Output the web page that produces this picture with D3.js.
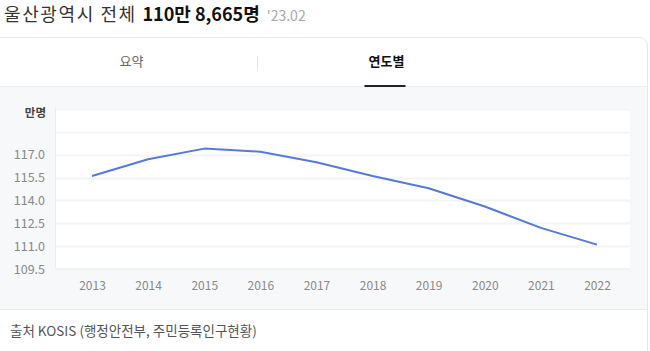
<!DOCTYPE html>
<html>
<head>
<meta charset="utf-8">
<script src="https://cdn.jsdelivr.net/npm/d3@7.9.0/dist/d3.min.js"></script>
<style>
  html, body { margin: 0; padding: 0; background: #fff; }
  body { width: 650px; height: 351px; overflow: hidden; font-family: "Noto Sans CJK KR", "Noto Sans", sans-serif; }
  svg { display: block; }
</style>
</head>
<body>
<svg id="chart" width="650" height="351"></svg>
<script>
const years = ["2013", "2014", "2015", "2016", "2017", "2018", "2019", "2020", "2021", "2022"];
const population = [115.6, 116.7, 117.4, 117.2, 116.5, 115.6, 114.8, 113.6, 112.2, 111.1];
const yTicks = [109.5, 111.0, 112.5, 114.0, 115.5, 117.0, 118.5, 120.0];
const yLabeled = [109.5, 111.0, 112.5, 114.0, 115.5, 117.0];
const tabs = ["요약", "연도별"];

const svg = d3.select("#chart");
const font = '"Noto Sans CJK KR", "Noto Sans", sans-serif';

// header
const head = svg.append("text").attr("x", 4).attr("y", 21).attr("font-family", font);
head.append("tspan").attr("font-size", 18).attr("letter-spacing", 1.6).attr("fill", "#333").text("울산광역시 전체 ");
head.append("tspan").attr("font-size", 18).attr("font-weight", "bold").attr("fill", "#111").text("110만 8,665명");
head.append("tspan").attr("dx", 7).attr("font-size", 14).attr("fill", "#aaa").text("'23.02");

// card
svg.append("rect")
  .attr("x", -10).attr("y", 37.5).attr("width", 657.5).attr("height", 330)
  .attr("rx", 8).attr("fill", "#fff").attr("stroke", "#e8e8e8");

// chart panel
svg.append("rect").attr("x", 0).attr("y", 87).attr("width", 647).attr("height", 222).attr("fill", "#f7f8fa");
svg.append("line").attr("x1", 0).attr("x2", 647).attr("y1", 86.5).attr("y2", 86.5).attr("stroke", "#ececec");
svg.append("line").attr("x1", 0).attr("x2", 647).attr("y1", 309.5).attr("y2", 309.5).attr("stroke", "#ececec");

// tabs
const tabX = d3.scaleBand().domain(tabs).range([4, 514]);
svg.selectAll(".tab").data(tabs).join("text")
  .attr("x", d => tabX(d) + tabX.bandwidth() / 2)
  .attr("y", 66)
  .attr("text-anchor", "middle")
  .attr("font-family", font)
  .attr("font-size", 13)
  .attr("font-weight", (d, i) => i === 1 ? "bold" : "normal")
  .attr("fill", (d, i) => i === 1 ? "#111" : "#666")
  .text(d => d);
svg.append("line").attr("x1", 257.5).attr("x2", 257.5).attr("y1", 56).attr("y2", 70).attr("stroke", "#e6e6e6");
svg.append("line")
  .attr("x1", tabX("연도별") + tabX.bandwidth() / 2 - 22)
  .attr("x2", tabX("연도별") + tabX.bandwidth() / 2 + 19)
  .attr("y1", 86).attr("y2", 86).attr("stroke", "#222").attr("stroke-width", 2);

// plot
const plot = { left: 55, right: 630, top: 108, bottom: 269 };
const x = d3.scalePoint().domain(years).range([92, 597]);
const y = d3.scaleLinear().domain([109.5, 120]).range([plot.bottom, plot.top + 1]);

svg.append("rect")
  .attr("x", plot.left).attr("y", plot.top)
  .attr("width", plot.right - plot.left).attr("height", plot.bottom - plot.top)
  .attr("fill", "#fff");

svg.append("g").selectAll("line").data(yTicks).join("line")
  .attr("x1", plot.left).attr("x2", plot.right)
  .attr("y1", d => Math.round(y(d)) + 0.5).attr("y2", d => Math.round(y(d)) + 0.5)
  .attr("stroke", "#f3f4f6").attr("stroke-width", 2);

svg.append("line").attr("x1", plot.left + 0.5).attr("x2", plot.left + 0.5)
  .attr("y1", plot.top).attr("y2", plot.bottom).attr("stroke", "#e9edf2");
svg.append("line").attr("x1", plot.left).attr("x2", plot.right)
  .attr("y1", plot.bottom - 0.5).attr("y2", plot.bottom - 0.5).attr("stroke", "#eef0f3");

const yAxis = svg.append("g").attr("transform", `translate(${plot.left - 7},0)`)
  .call(d3.axisLeft(y).tickValues(yLabeled).tickFormat(d3.format(".1f")).tickSize(0));
yAxis.select(".domain").remove();
yAxis.selectAll("text").attr("font-family", font).attr("font-size", 12.5).attr("fill", "#888").attr("dx", 0);

svg.append("text").attr("x", 46).attr("y", 117).attr("text-anchor", "end")
  .attr("font-family", font).attr("font-size", 11.5).attr("font-weight", "bold").attr("fill", "#444")
  .text("만명");

const xAxis = svg.append("g").attr("transform", `translate(0,${plot.bottom + 9})`)
  .call(d3.axisBottom(x).tickSize(0));
xAxis.select(".domain").remove();
xAxis.selectAll("text").attr("font-family", font).attr("font-size", 12).attr("fill", "#888");

svg.append("path")
  .datum(population)
  .attr("fill", "none")
  .attr("stroke", "#5679de")
  .attr("stroke-width", 2)
  .attr("stroke-linejoin", "round")
  .attr("d", d3.line().x((d, i) => x(years[i])).y(d => y(d)));

// footer
svg.append("text").attr("x", 10).attr("y", 336)
  .attr("font-family", font).attr("font-size", 13.5).attr("fill", "#555")
  .text("출처 KOSIS (행정안전부, 주민등록인구현황)");
</script>
</body>
</html>
